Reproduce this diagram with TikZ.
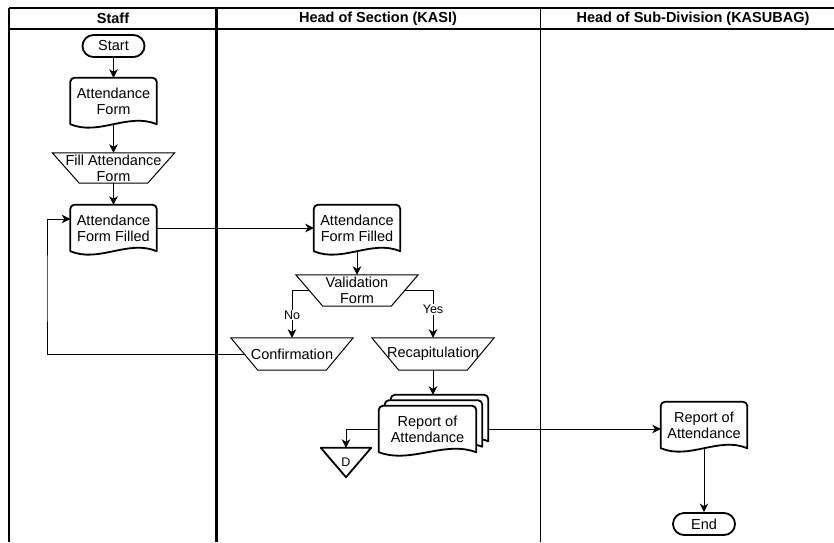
\documentclass[tikz,border=0pt]{standalone}
\usepackage{fontspec}
\setmainfont{Liberation Sans}
\usetikzlibrary{arrows.meta,calc,backgrounds}

\tikzset{
  lbl/.style={font=\fontsize{14.5}{15.7}\selectfont, align=center, inner sep=0pt},
  docbox/.style={lbl, rectangle, minimum width=86pt, minimum height=46pt},
  opbox/.style={lbl, rectangle, minimum width=122pt, minimum height=31pt},
  termbox/.style={lbl, rectangle, rounded corners=11pt, draw, line width=1.8pt,
    minimum width=62pt, minimum height=22pt, fill=white},
  shapeline/.style={draw, line width=1.8pt, fill=white, line join=round},
  thinshape/.style={draw, line width=1pt, fill=white},
  flow/.style={draw, line width=1pt, -{Stealth[length=8.5pt,width=8.5pt,inset=2.5pt]}},
  branch/.style={font=\fontsize{12.5}{14}\selectfont, fill=white, inner sep=1pt},
  lane/.style={line width=1.2pt},
  head/.style={font=\bfseries\fontsize{14.5}{16}\selectfont},
}

% document symbol: rounded top corners, wavy bottom edge
\newcommand\docoutline[1]{%
  \path[shapeline] (#1.south west) -- ([yshift=-4pt]#1.north west)
    arc[start angle=180,end angle=90,radius=4pt] -- ([xshift=-4pt]#1.north east)
    arc[start angle=90,end angle=0,radius=4pt] -- (#1.south east)
    .. controls ($(#1.south east)!0.33!(#1.south west)+(0,12pt)$)
       and ($(#1.south east)!0.67!(#1.south west)+(0,-12pt)$) .. (#1.south west) -- cycle;}

% manual operation symbol: trapezoid with the wide side on top
\newcommand\opoutline[1]{%
  \path[thinshape] (#1.north west) -- (#1.north east) -- ([xshift=-27pt]#1.south east)
    -- ([xshift=27pt]#1.south west) -- cycle;}

\begin{document}
\begin{tikzpicture}[x=1pt,y=-1pt]
\useasboundingbox (0,0) rectangle (834,542);

% swimlanes
\draw[lane] (9,8) -- (834,8);
\draw[lane] (9,29) -- (834,29);
\draw[line width=2pt] (9,8) -- (9,542);
\draw[line width=3pt] (216,8) -- (216,542);
\draw[line width=1pt] (540,8) -- (540,542);
\node[head] (hstaff) at (113,18.5) {Staff};
\node[head] (hkasi) at (378,18.5) {Head of Section (KASI)};
\node[head] (hkasubag) at (693,18.5) {Head of Sub-Division (KASUBAG)};

% Staff lane
\node[termbox] (start) at (113.5,46) {Start};
\node[docbox] (form1) at (113.5,101) {Attendance\\Form};
\node[opbox, minimum height=30pt] (fill) at (113.5,168) {Fill Attendance\\Form};
\node[docbox] (filled1) at (113.5,228) {Attendance\\Form Filled};
\coordinate (loop) at (47,290);

% Head of Section lane
\node[docbox] (filled2) at (357,228) {Attendance\\Form Filled};
\node[opbox] (valid) at (357,290.5) {Validation\\Form};
\node[opbox, minimum height=32pt] (confirm) at (292,354) {Confirmation};
\node[opbox, minimum height=32pt] (recap) at (433,354) {Recapitulation};
\node[docbox, minimum width=97pt] (reportb) at (439.5,418) {};
\node[docbox, minimum width=97pt] (reportm) at (433.5,423.5) {};
\node[docbox, minimum width=97pt] (report) at (427.5,429) {Report of\\Attendance};
\node[lbl, font=\fontsize{12.5}{14}\selectfont, rectangle, minimum width=50pt,
      minimum height=29pt] (dstore) at (346,462.5) {D};

% Head of Sub-Division lane
\node[docbox] (report2) at (704,425) {Report of\\Attendance};
\node[termbox] (end) at (704,524) {End};

% symbol outlines behind their texts
\begin{pgfonlayer}{background}
  \docoutline{form1}
  \opoutline{fill}
  \docoutline{filled1}
  \docoutline{filled2}
  \opoutline{valid}
  \opoutline{confirm}
  \opoutline{recap}
  \docoutline{reportb}
  \docoutline{reportm}
  \docoutline{report}
  \path[shapeline] (dstore.north west) -- (dstore.north east) -- (dstore.south) -- cycle;
  \docoutline{report2}
\end{pgfonlayer}

% connectors
\draw[flow] (start.south) -- (form1.north);
\draw[flow] (form1.south) -- (fill.north);
\draw[flow] (fill.south) -- (filled1.north);
\draw[flow] (filled1.east) -- (filled2.west);
\draw[flow] (filled2.south) -- (valid.north);
\draw[flow] ([xshift=13.5pt]valid.west) -| node[branch, pos=0.76] {No} (confirm.north);
\draw[flow] ([xshift=-13.5pt]valid.east) -| node[branch, pos=0.7] {Yes} (recap.north);
\draw[flow] ([xshift=13.5pt]confirm.west) -| (loop) |- ([yshift=9pt]filled1.west);
\draw[flow] (recap.south) -- (recap.south |- reportb.north);
\draw[flow] (report.west) -| (dstore.north);
\draw[flow] (report.center -| reportb.east) -- (report.center -| report2.west);
\draw[flow] (report2.south) -- (end.north);
\end{tikzpicture}
\end{document}
